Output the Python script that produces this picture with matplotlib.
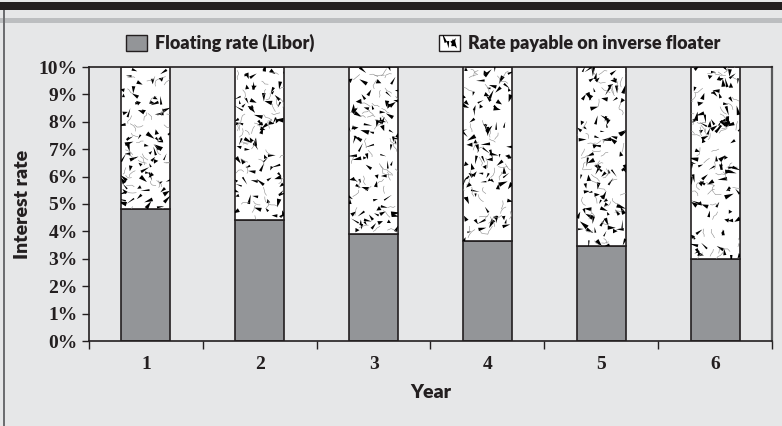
import matplotlib
matplotlib.use("Agg")
import matplotlib.pyplot as plt
import numpy as np
from matplotlib.patches import Rectangle, Polygon, Patch
from matplotlib.collections import PatchCollection, LineCollection
from matplotlib.legend_handler import HandlerBase

years = ["1", "2", "3", "4", "5", "6"]
libor = [4.8, 4.4, 3.9, 3.65, 3.45, 3.0]
cap = 10.0
inverse = [cap - v for v in libor]
yticks = list(range(0, 11))

BG = "#e6e7e8"
INK = "#231f20"
GREY_BAR = "#939598"
SANS = dict(family="Lato", fontweight="heavy", color=INK)
SERIF = dict(family="Liberation Serif", fontweight="bold", color=INK)

rng = np.random.default_rng(11)


def shard_patches(x0, y0, w, h, sx, sy, n, size=1.0):
    """Small black slivers scattered over a box (w, h in data units)."""
    polys = []
    for _ in range(n):
        cx = x0 + rng.uniform(0, w)
        cy = y0 + rng.uniform(0, h)
        ang = rng.uniform(0, 2 * np.pi)
        L = rng.uniform(3.5, 10.0) * size
        W = rng.uniform(0.7, 2.4) * size
        d = np.array([np.cos(ang), np.sin(ang)])
        p = np.array([-d[1], d[0]])
        pts = [d * L * 0.6, -d * L * 0.4 + p * W, -d * L * 0.4 - p * W]
        polys.append(Polygon([(cx + q[0] * sx, cy + q[1] * sy) for q in pts],
                             closed=True))
    return polys


def squiggles(x0, y0, w, h, sx, sy, n):
    segs = []
    for _ in range(n):
        cx = x0 + rng.uniform(0, w)
        cy = y0 + rng.uniform(0, h)
        ang = rng.uniform(0, 2 * np.pi)
        pts = []
        for k in range(4):
            ang += rng.uniform(-0.9, 0.9)
            pts.append((cx, cy))
            step = rng.uniform(2, 4)
            cx += np.cos(ang) * step * sx
            cy += np.sin(ang) * step * sy
        segs.append(pts)
    return segs


class HandlerShards(HandlerBase):
    def create_artists(self, legend, orig_handle, xdescent, ydescent,
                       width, height, fontsize, trans):
        box = Rectangle((-xdescent, -ydescent), width, height,
                        facecolor="white", edgecolor=INK, lw=1.0,
                        transform=trans)
        out = [box]
        marks = shard_patches(-xdescent + 2, -ydescent + 2, width - 4,
                              height - 4, 1.0, 1.0, 5, size=0.9)
        pc = PatchCollection(marks, facecolor="black", edgecolor="none",
                             transform=trans)
        pc.set_clip_path(box)
        out.append(pc)
        return out


fig = plt.figure(figsize=(7.82, 4.26), dpi=100, facecolor=BG)

# header bands and left rule
fig.add_artist(Rectangle((0, 1 - 10 / 426), 1, 8 / 426, transform=fig.transFigure,
                         facecolor="#231f20", edgecolor="none"))
fig.add_artist(Rectangle((0, 1 - 23 / 426), 1, 5 / 426, transform=fig.transFigure,
                         facecolor="#bcbec0", edgecolor="none"))
fig.add_artist(Rectangle((2.5 / 782, 0), 2 / 782, 1 - 10 / 426,
                         transform=fig.transFigure,
                         facecolor="#6d6e71", edgecolor="none"))

ax = fig.add_axes([89 / 782, 1 - 341 / 426, (772 - 89) / 782, (341 - 67) / 426])
ax.set_facecolor(BG)

x = np.arange(1, len(years) + 1)
bw = 0.43
ax.bar(x, libor, width=bw, color=GREY_BAR, edgecolor=INK, linewidth=1.2,
       zorder=2)
tops = ax.bar(x, inverse, width=bw, bottom=libor, color="white",
              edgecolor=INK, linewidth=1.2, zorder=2)

ax.set_xlim(0.5, 6.5)
ax.set_ylim(0, 10)

# speckled fill for the inverse floater bars
sx = 6.0 / 683
sy = 10.0 / 274
for bar in tops:
    bx, by = bar.get_x(), bar.get_y()
    w, h = bar.get_width(), bar.get_height()
    n = int(w / sx * h / sy / 95)
    pc = PatchCollection(shard_patches(bx, by, w, h, sx, sy, n),
                         facecolor="black", edgecolor="none", zorder=3,
                         transform=ax.transData)
    ax.add_collection(pc)
    pc.set_clip_path(bar)
    lc = LineCollection(squiggles(bx, by, w, h, sx, sy, n // 2),
                        colors="#8a8a8a", linewidths=0.4, zorder=3)
    ax.add_collection(lc)
    lc.set_clip_path(bar)

ax.set_yticks(yticks)
ax.set_yticklabels([f"{t}%" for t in yticks], fontsize=14, **SERIF)
ax.set_xticks(x)
ax.set_xticklabels(years, fontsize=14, **SERIF)
ax.set_xticks(np.arange(0.5, 7.0, 1.0), minor=True)
ax.tick_params(axis="x", which="major", length=0, pad=11)
ax.tick_params(axis="x", which="minor", length=6, width=1.0, color=INK,
               direction="out")
ax.tick_params(axis="y", length=5, width=1.0, color=INK, direction="out",
               pad=3)

for side in ["left", "bottom", "top", "right"]:
    ax.spines[side].set_color(INK)
    ax.spines[side].set_linewidth(1.2)
ax.spines["right"].set_color("#58595b")
ax.spines["right"].set_linewidth(1.6)

ax.set_ylabel("Interest rate", fontsize=14, labelpad=6, **SANS)
ax.set_xlabel("Year", fontsize=14, labelpad=8, **SANS)

h1 = Patch(facecolor=GREY_BAR, edgecolor=INK, linewidth=1.0)
h2 = Patch(facecolor="white", edgecolor=INK)
fig.legend([h1, h2], ["Floating rate (Libor)", "Rate payable on inverse floater"],
           handler_map={h2: HandlerShards()}, loc="center",
           bbox_to_anchor=(423 / 782, 1 - 43 / 426), ncol=2, frameon=False,
           handlelength=1.15, handleheight=1.0, handletextpad=0.45,
           columnspacing=6.9,
           prop={"family": "Lato", "weight": "heavy", "size": 13})
for t in fig.legends[0].get_texts():
    t.set_color(INK)

fig.savefig("out.png", dpi=100, facecolor=BG)
